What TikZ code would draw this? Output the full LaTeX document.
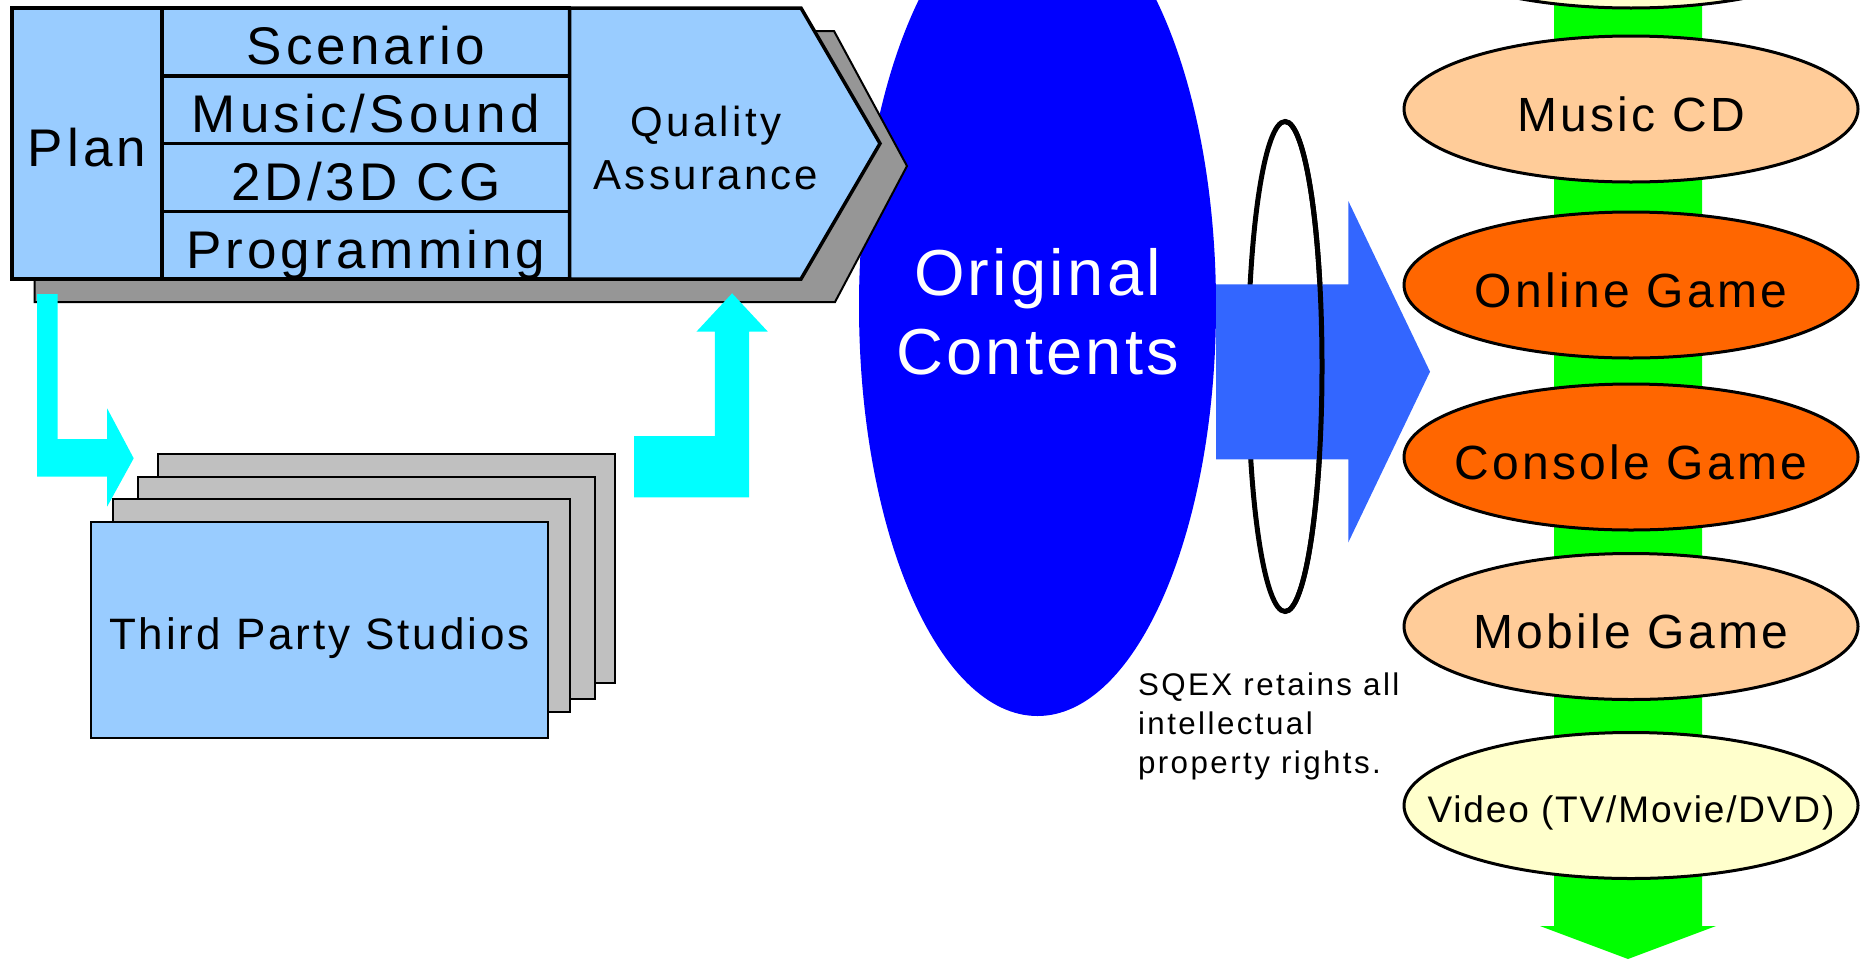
\documentclass[tikz,border=0pt]{standalone}
\usepackage{fontspec}
\setmainfont{Liberation Sans}
\newfontfamily\blockfont[LetterSpace=7.8]{Liberation Sans}
\newfontfamily\ovalfont[LetterSpace=6.8]{Liberation Sans}
\newfontfamily\cardfont[LetterSpace=6.6]{Liberation Sans}
\newfontfamily\widefont[LetterSpace=5]{Liberation Sans}
\usepackage{tikz}
\usetikzlibrary{positioning,shapes}
\definecolor{paleblue}{RGB}{153,204,255}
\definecolor{shadowgray}{RGB}{150,150,150}
\definecolor{cardgray}{RGB}{192,192,192}
\definecolor{sqexblue}{RGB}{0,0,255}
\definecolor{arrowblue}{RGB}{51,102,255}
\definecolor{aqua}{RGB}{0,255,255}
\definecolor{lime}{RGB}{0,255,0}
\definecolor{peach}{RGB}{255,204,153}
\definecolor{tangerine}{RGB}{255,102,0}
\definecolor{cream}{RGB}{255,255,204}

\begin{document}
\begin{tikzpicture}[% one unit is one pixel of the slide, y grows downwards
		x=1pt,y=-1pt,
		every node/.style={
			align=center,	% so that "\\" breaks the line
			inner sep=0pt,
			outer sep=0pt
		},
		cell/.style={rectangle,draw=black,line width=3.5pt,fill=paleblue,
			text height=46pt,text depth=0pt,font=\blockfont\fontsize{53}{64}\selectfont},
		card/.style={rectangle,draw=black,line width=2pt,fill=cardgray,minimum width=457pt},
		oval/.style={ellipse,draw=black,line width=3pt,minimum width=454pt,minimum height=146pt,
			text height=44pt,text depth=0pt,font=\ovalfont\fontsize{48}{58}\selectfont},
		node distance=28pt
	]
	\useasboundingbox (0,0) rectangle (1865,959);

	% the contents in the middle
	\node[ellipse,fill=sqexblue,minimum width=357pt,minimum height=820pt](Orig) at (1037.5,306) {};
	\node[text=white,font=\widefont\fontsize{65}{79}\selectfont](OrigText) at ([yshift=-6pt]Orig.center) {Original\\Contents};

	% green flow behind the products
	\fill[lime] (1554,0) -- (1702,0) -- (1702,926) -- (1716,926) -- (1628,959) -- (1540,926) -- (1554,926) -- cycle;

	% development block and its shadow
	\draw[fill=shadowgray,line width=2pt] (34.5,31) -- (834,31) -- (907,166) -- (835,302) -- (34.5,302) -- cycle;
	\node[cell,minimum width=150pt,minimum height=271pt](Plan) at (87,143.5) {Plan};
	\node[cell,minimum width=407.5pt,minimum height=67.75pt,anchor=north west](Scen) at (Plan.north east) {Scenario};
	\node[cell,minimum width=407.5pt,minimum height=67.75pt,below=0pt of Scen](Sound) {Music/Sound};
	\node[cell,minimum width=407.5pt,minimum height=67.75pt,below=0pt of Sound](CG) {2D/3D CG};
	\node[cell,minimum width=407.5pt,minimum height=67.75pt,below=0pt of CG](Prog) {Programming};
	\draw[fill=paleblue,line width=3.5pt] (Scen.north east) -- ++(231.5,0) -- ++(79,135.5) -- ++(-79,135.5) -- (Prog.south east) -- cycle;
	\node[font=\blockfont\fontsize{42}{52.6}\selectfont](QA) at (706,148) {Quality\\Assurance};

	% outside studios
	\node[card,minimum height=229pt](Card3) at (386.5,568.5) {};
	\node[card,minimum height=222pt](Card2) at (366.5,588) {};
	\node[card,minimum height=213pt](Card1) at (341.5,605.5) {};
	\node[card,fill=paleblue,minimum height=216pt,text height=38pt,text depth=0pt,
		font=\cardfont\fontsize{44}{53}\selectfont](Studios) at (319.5,630) {Third Party Studios};

	% work goes out and comes back
	\coordinate (HandOut) at (37.2,294);
	\coordinate (HandBack) at (634.2,497.3);
	\fill[aqua] (HandOut) -- ++(20.5,0) -- ++(0,145) -- ++(49.4,0) -- ++(0,-30.7) -- ++(26.6,50)
		-- ++(-26.6,48.4) -- ++(0,-30) -- ++(-69.9,0) -- cycle;
	\fill[aqua] (HandBack) -- ++(114.8,0) -- ++(0,-165.6) -- ++(18.9,0) -- ++(-35.8,-38.4)
		-- ++(-35.7,38.4) -- ++(18.4,0) -- ++(0,104.3) -- ++(-80.6,0) -- cycle;

	% rights ring round the big arrow
	\node[ellipse,draw=black,line width=5pt,minimum width=74pt,minimum height=490pt](Ring) at (1285,366.5) {};
	\fill[arrowblue] ([yshift=21.7pt]Orig.east) -- ++(132.3,0) -- ++(0,-83.3) -- ++(81.7,170.7)
		-- ++(-81.7,170.7) -- ++(0,-83.1) -- ++(-132.3,0) -- cycle;
	\draw[line width=5pt] (Ring.north) arc[start angle=90,end angle=-90,x radius=37pt,y radius=245pt];
	\node[anchor=north west,align=left,font=\blockfont\fontsize{31.3}{38.8}\selectfont](Rights) at (1138,673)
		{SQEX retains all\\intellectual\\property rights.};

	% products
	\node[oval,fill=peach](Music) at (1631,109) {\makebox[0pt]{Music CD}};
	\node[oval,fill=cream,above=of Music](Top) {};
	\node[oval,fill=tangerine,below=30pt of Music](Online) {\makebox[0pt]{Online Game}};
	\node[oval,fill=tangerine,below=26pt of Online](Console) {\makebox[0pt]{Console Game}};
	\node[oval,fill=peach,below=23.5pt of Console](Mobile) {\makebox[0pt]{Mobile Game}};
	\node[oval,fill=cream,below=33pt of Mobile,text height=34.6pt,
		font=\widefont\fontsize{37}{44}\selectfont](Video) {\makebox[0pt]{Video (TV/Movie/DVD)}};
\end{tikzpicture}
\end{document}
